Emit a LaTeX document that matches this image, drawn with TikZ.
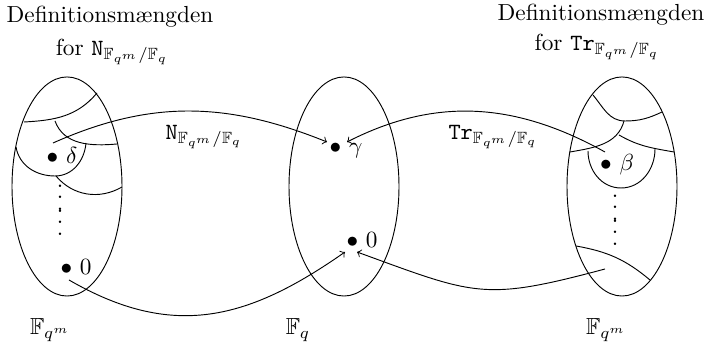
\documentclass[tikz,border=0pt]{standalone}
\usepackage{amssymb}
\usetikzlibrary{shapes.geometric}

% two columns of dots, the second one hanging just below the first
\newcommand{\dotcol}{\vbox{\baselineskip5pt\lineskiplimit0pt
  \hbox{.}\hbox{.}\hbox{.}\kern-4.2pt\hbox{.}\hbox{.}\hbox{.}}}

\begin{document}
\begin{tikzpicture}[
  x=0.43pt, y=0.43pt,
  set/.style  = {draw, ellipse, minimum width=47.3pt, minimum height=94.2pt, inner sep=0pt},
  part/.style = {draw},
  elem/.style = {inner sep=0pt},
  map/.style  = {->},
  lbl/.style  = {inner sep=0pt},
  vd/.style   = {inner sep=0pt},
]
\useasboundingbox (0,0) rectangle (707,-351);

% ---------- the three sets ------------------------------------------------
\node[set] (dom1) at (67,-186.5) {};
\node[set] (codom) at (344,-186.5) {};
\node[set] (dom2) at (622,-186.5) {};

% ---------- left set : cosets ----------------------------------------------
\draw[part] (24,-122) to[out=3,in=230] (97,-93);
\draw[part] (55,-121) to[out=-70,in=185] (117,-144);
\draw[part] (16,-147) to[out=-80,in=180] (55,-176) to[out=0,in=-95] (86,-143);
\draw[part] (56,-176) to[out=-50,in=210] (122,-187);

% ---------- right set : cosets ---------------------------------------------
\draw[part] (593,-95) to[out=-50,in=180] (625,-121) to[out=0,in=205] (662,-112);
\draw[part] (624,-121) to[out=-105,in=10] (570,-152);
\draw[part] (619,-135) to[out=-30,in=170] (674,-152);
\draw[part] (588,-151) to[out=-90,in=180] (621,-188) to[out=0,in=-90] (655,-149);
\draw[part] (576,-246) to[out=-10,in=140] (650,-280);

% ---------- elements -------------------------------------------------------
\node[elem] (delta) at (62,-155) {$\bullet\ \delta$};
\node[elem] (zero1) at (76,-267) {$\bullet\ 0$};
\node[elem] (gamma) at (346,-151) {$\bullet\ \gamma$};
\node[elem] (zero2) at (362,-240) {$\bullet\ 0$};
\node[elem] (beta)  at (617,-165) {$\bullet\ \beta$};

\node[vd] (ldots) at (60,-210) {\dotcol};
\node[vd] (rdots) at (615,-220) {\dotcol};

% ---------- the maps -------------------------------------------------------
\coordinate (nfrom) at (53,-143);
\coordinate (nto)   at (327,-142);
\coordinate (tfrom) at (605,-152);
\coordinate (tto)   at (347,-142);
\coordinate (zfrom) at (69,-280);
\coordinate (zto)   at (345,-252);
\coordinate (kfrom) at (605,-269);
\coordinate (kto)   at (357,-252);

\draw[map] (nfrom) to[out=24,in=158] (nto);
\draw[map] (tfrom) to[out=151,in=27] (tto);
\draw[map] (zfrom) to[out=-30,in=215,looseness=1.1] (zto);
\draw[map] (kfrom) to[out=195,in=-20,looseness=1.3] (kto);

\node[lbl] (nlab) at (204,-137) {$\mathtt{N}_{\mathbb{F}_{q^m}/\mathbb{F}_q}$};
\node[lbl] (tlab) at (493,-137) {$\mathtt{Tr}_{\mathbb{F}_{q^m}/\mathbb{F}_q}$};

% ---------- titles ---------------------------------------------------------
\node[lbl] (ltit1) at (110,-17) {Definitionsmængden};
\node[lbl] (ltit2) at (112,-52) {for $\mathtt{N}_{\mathbb{F}_{q^m}/\mathbb{F}_q}$};
\node[lbl] (rtit1) at (601,-15) {Definitionsmængden};
\node[lbl] (rtit2) at (597,-47) {for $\mathtt{Tr}_{\mathbb{F}_{q^m}/\mathbb{F}_q}$};

\node[lbl] (lname) at (50,-330) {$\mathbb{F}_{q^m}$};
\node[lbl] (mname) at (298,-330) {$\mathbb{F}_q$};
\node[lbl] (rname) at (606,-330) {$\mathbb{F}_{q^m}$};

\end{tikzpicture}
\end{document}
